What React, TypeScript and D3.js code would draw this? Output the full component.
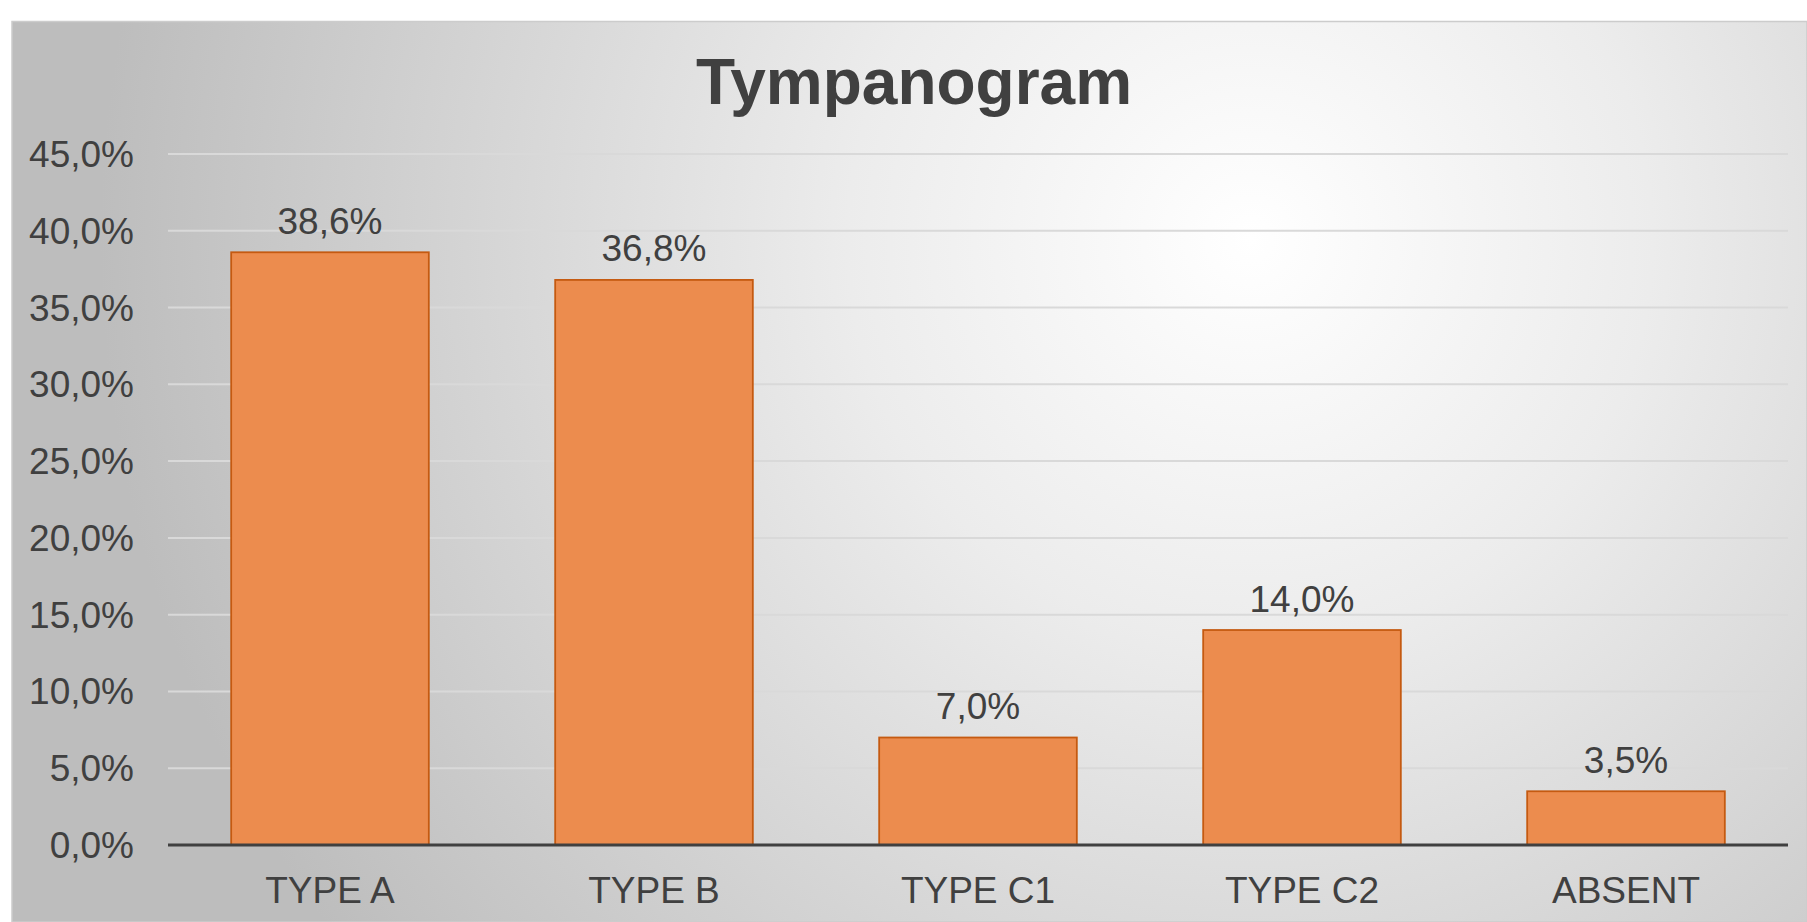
import React, { useEffect, useRef } from 'react';
import * as d3 from 'd3';

const categories = ['TYPE A', 'TYPE B', 'TYPE C1', 'TYPE C2', 'ABSENT'];
const values = [38.6, 36.8, 7.0, 14.0, 3.5];
const yTicks = [0, 5, 10, 15, 20, 25, 30, 35, 40, 45];
const title = 'Tympanogram';

const W = 1807;
const H = 922;

export default function App() {
  const svgRef = useRef<SVGSVGElement>(null);

  useEffect(() => {
    const svg = d3.select(svgRef.current);
    svg.selectAll('*').remove();

    const font = '"Liberation Sans", Arial, sans-serif';
    const textColor = '#404040';
    const locale = d3.formatLocale({ decimal: ',', thousands: '.', grouping: [3], currency: ['', '€'] });
    const pct = (v: number) => locale.format('.1f')(v) + '%';

    // background gradient
    const defs = svg.append('defs');
    const grad = defs.append('radialGradient')
      .attr('id', 'bg')
      .attr('gradientUnits', 'userSpaceOnUse')
      .attr('cx', 1250).attr('cy', 240).attr('r', 1150);
    grad.append('stop').attr('offset', 0).attr('stop-color', '#ffffff');
    grad.append('stop').attr('offset', 0.35).attr('stop-color', '#ececec');
    grad.append('stop').attr('offset', 1).attr('stop-color', '#bdbdbd');

    svg.append('rect')
      .attr('x', 12).attr('y', 21.5)
      .attr('width', W - 12).attr('height', H - 21.5)
      .attr('fill', 'url(#bg)')
      .attr('stroke', '#cccccc')
      .attr('stroke-width', 1.5);

    const left = 168, right = 1788, top = 154, bottom = 845;

    const x = d3.scaleBand()
      .domain(categories)
      .range([left, right])
      .paddingInner(0.39)
      .paddingOuter(0.195);

    const y = d3.scaleLinear()
      .domain([0, 45])
      .range([bottom, top]);

    // gridlines
    svg.append('g')
      .selectAll('line')
      .data(yTicks.filter(d => d > 0))
      .enter()
      .append('line')
      .attr('x1', left).attr('x2', right)
      .attr('y1', d => y(d)).attr('y2', d => y(d))
      .attr('stroke', '#d9d9d9')
      .attr('stroke-width', 2);

    // y tick labels
    svg.append('g')
      .selectAll('text')
      .data(yTicks)
      .enter()
      .append('text')
      .attr('x', 134)
      .attr('y', d => y(d))
      .attr('dy', '0.35em')
      .attr('text-anchor', 'end')
      .attr('font-family', font)
      .attr('font-size', 37)
      .attr('fill', textColor)
      .text(d => pct(d));

    // bars
    const data = categories.map((c, i) => ({ c, v: values[i] }));
    svg.append('g')
      .selectAll('rect')
      .data(data)
      .enter()
      .append('rect')
      .attr('x', d => x(d.c)!)
      .attr('y', d => y(d.v))
      .attr('width', x.bandwidth())
      .attr('height', d => bottom - y(d.v))
      .attr('fill', '#ec8c4e')
      .attr('stroke', '#c55a11')
      .attr('stroke-width', 1.8);

    // value labels
    svg.append('g')
      .selectAll('text')
      .data(data)
      .enter()
      .append('text')
      .attr('x', d => x(d.c)! + x.bandwidth() / 2)
      .attr('y', d => y(d.v) - 18.5)
      .attr('text-anchor', 'middle')
      .attr('font-family', font)
      .attr('font-size', 37)
      .attr('fill', textColor)
      .text(d => pct(d.v));

    // x axis line
    svg.append('line')
      .attr('x1', left).attr('x2', right)
      .attr('y1', bottom).attr('y2', bottom)
      .attr('stroke', '#404040')
      .attr('stroke-width', 3);

    // category labels
    svg.append('g')
      .selectAll('text')
      .data(categories)
      .enter()
      .append('text')
      .attr('x', d => x(d)! + x.bandwidth() / 2)
      .attr('y', 903)
      .attr('text-anchor', 'middle')
      .attr('font-family', font)
      .attr('font-size', 37)
      .attr('fill', textColor)
      .text(d => d);

    // title
    svg.append('text')
      .attr('x', 914)
      .attr('y', 104)
      .attr('text-anchor', 'middle')
      .attr('font-family', font)
      .attr('font-weight', 'bold')
      .attr('font-size', 64)
      .attr('fill', textColor)
      .text(title);
  }, []);

  return (
    <svg
      ref={svgRef}
      width={W}
      height={H}
      style={{ position: 'absolute', left: 0, top: 0, display: 'block', background: '#ffffff' }}
    />
  );
}
